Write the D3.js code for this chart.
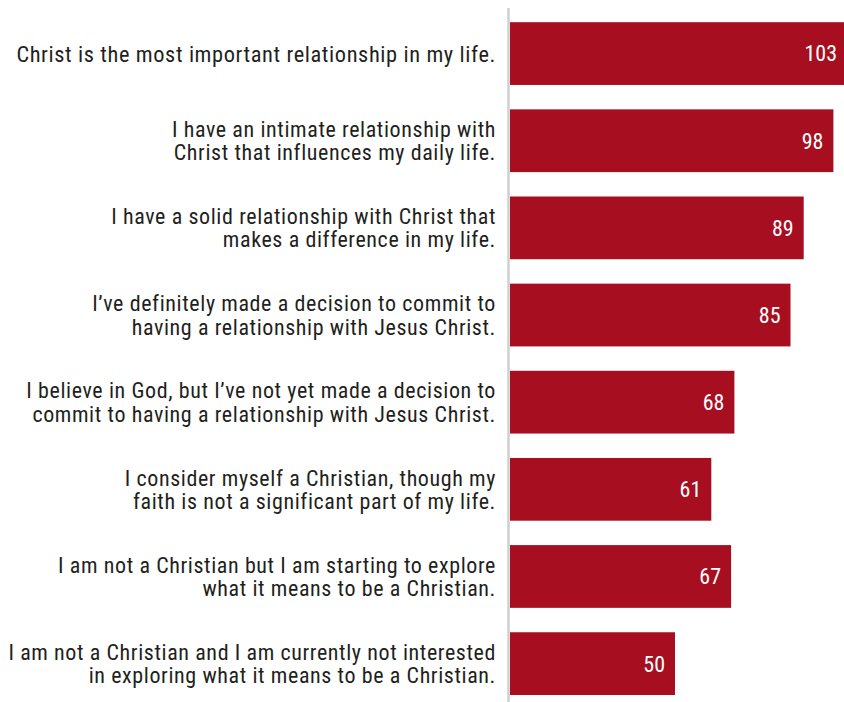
<!DOCTYPE html>
<html>
<head>
<meta charset="utf-8">
<script src="https://cdn.jsdelivr.net/npm/d3@7"></script>
<style>
  html, body { margin: 0; padding: 0; background: #fff; }
  svg { display: block; }
  .cat { font-family: "Roboto Condensed", "Liberation Sans Narrow", "Arial Narrow", sans-serif; font-size: 22px; letter-spacing: 0.6px; fill: #231f20; }
  .cat.lead { font-size: 22.4px; }
  .val { font-family: "Roboto Condensed", "Liberation Sans Narrow", "Arial Narrow", sans-serif; font-size: 22px; fill: #fff; }
</style>
</head>
<body>
<svg id="chart" width="844" height="702"></svg>
<script>
// Statements (each split into its display lines)
const categories = [
  ["Christ is the most important relationship in my life."],
  ["I have an intimate relationship with", "Christ that influences my daily life."],
  ["I have a solid relationship with Christ that", "makes a difference in my life."],
  ["I\u2019ve definitely made a decision to commit to", "having a relationship with Jesus Christ."],
  ["I believe in God, but I\u2019ve not yet made a decision to", "commit to having a relationship with Jesus Christ."],
  ["I consider myself a Christian, though my", "faith is not a significant part of my life."],
  ["I am not a Christian but I am starting to explore", "what it means to be a Christian."],
  ["I am not a Christian and I am currently not interested", "in exploring what it means to be a Christian."]
];
const values = [103, 98, 89, 85, 68, 61, 67, 50];

const svg = d3.select("#chart");
const W = 844, H = 702;
const x0 = 510;

const x = d3.scaleLinear().domain([0, 100]).range([x0, 840]);
const y = d3.scaleBand()
  .domain(d3.range(values.length))
  .range([0, 8 * 87.15])
  .paddingInner(0.28)
  .paddingOuter(0.14);

const g = svg.append("g").attr("transform", "translate(0,10)");

// bars
g.selectAll("rect.bar")
  .data(values)
  .join("rect")
  .attr("class", "bar")
  .attr("x", x(0))
  .attr("y", (d, i) => y(i))
  .attr("width", d => x(d) - x(0))
  .attr("height", y.bandwidth())
  .attr("fill", "#a70e1f");

// value labels inside bar ends (kept inside the visible area)
g.selectAll("text.val")
  .data(values)
  .join("text")
  .attr("class", "val")
  .attr("x", d => Math.min(x(d) - 10, W - 7))
  .attr("y", (d, i) => y(i) + y.bandwidth() / 2)
  .attr("dy", "0.36em")
  .attr("text-anchor", "end")
  .text(d => d);

// category labels, right-aligned against the axis
const lineH = 23.3;
const cats = g.selectAll("text.cat")
  .data(categories)
  .join("text")
  .attr("class", (d, i) => i === 0 ? "cat lead" : "cat")
  .attr("text-anchor", "end")
  .attr("y", (d, i) => y(i) + y.bandwidth() / 2 - (d.length - 1) * lineH / 2);
cats.selectAll("tspan")
  .data(d => d)
  .join("tspan")
  .attr("x", 496)
  .attr("dy", (d, j) => j === 0 ? "0.36em" : lineH)
  .text(d => d);

// vertical axis line
svg.append("line")
  .attr("x1", 508.5).attr("x2", 508.5)
  .attr("y1", 8).attr("y2", H)
  .attr("stroke", "#cfcfcf")
  .attr("stroke-width", 2.5);
</script>
</body>
</html>
